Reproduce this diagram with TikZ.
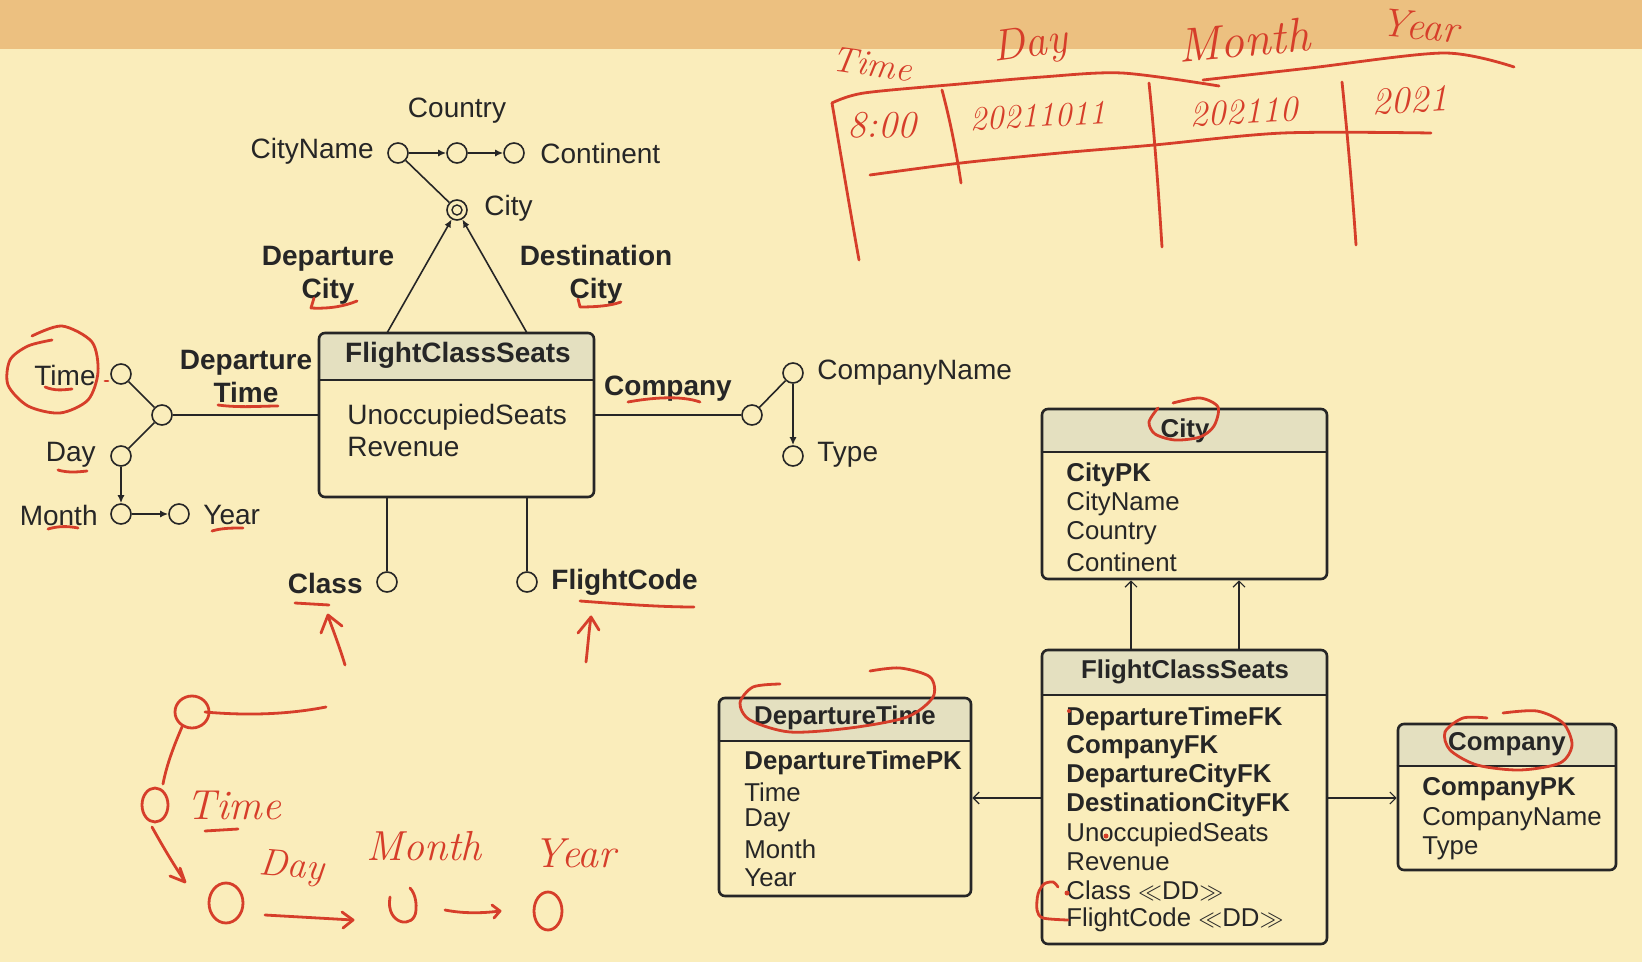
\documentclass[tikz,border=0pt]{standalone}
\usepackage{fontspec}
\newfontfamily\af{Liberation Sans}
\usetikzlibrary{arrows.meta,fit,calc}
\definecolor{bgc}{RGB}{250,237,187}
\definecolor{bandc}{RGB}{236,192,128}
\definecolor{hdrc}{RGB}{228,224,192}
\definecolor{ink}{RGB}{38,38,38}
\definecolor{redc}{RGB}{214,62,42}
\begin{document}
\begin{tikzpicture}[x=0.5pt,y=-0.5pt,
  attr/.style={circle, draw=ink, line width=0.8pt, minimum size=10pt, inner sep=0pt, fill=bgc},
  lbl/.style={font=\af\fontsize{14}{16.5}\selectfont, text=ink, inner sep=0pt},
  blbl/.style={font=\af\bfseries\fontsize{14}{16.5}\selectfont, text=ink, inner sep=0pt, align=center},
  conn/.style={draw=ink, line width=0.8pt},
  erarr/.style={conn, -{Latex[length=4pt,width=3.5pt]}},
  tbox/.style={draw=ink, line width=1.3pt, rounded corners=3pt, inner sep=0pt},
  row/.style={font=\af\fontsize{12.9}{14}\selectfont, anchor=west, inner sep=0pt, text=ink},
  brow/.style={font=\af\bfseries\fontsize{12.9}{14}\selectfont, anchor=west, inner sep=0pt, text=ink},
  ttl/.style={font=\af\bfseries\fontsize{12.9}{14}\selectfont, inner sep=0pt, text=ink},
  relarr/.style={draw=ink, line width=0.6pt, -{Straight Barb[length=3pt,width=6pt]}},
  pen/.style={draw=redc, line width=1.4pt, line cap=round, line join=round},
  hand/.style={text=redc, inner sep=0pt, font=\itshape\fontsize{#1}{#1}\selectfont},
  hand/.default=18
]
\useasboundingbox (0,0) rectangle (1642,962);
\fill[bgc] (0,0) rectangle (1642,962);
\fill[bandc] (0,0) rectangle (1642,49);

% ================= ER (left) =================
\node[lbl] (country) at (457,111) {Country};
\node[attr] (cn) at (398,153) {};
\node[attr] (co) at (457,153) {};
\node[attr] (ct) at (514,153) {};
\node[lbl, anchor=east] (cnl) at (374,151) {CityName};
\node[lbl, anchor=west] (ctl) at (540,153) {Continent};
\draw[erarr] (cn) -- (co);
\draw[erarr] (co) -- (ct);
\node[attr] (city) at (457,210) {};
\node[circle, draw=ink, line width=0.7pt, minimum size=5pt, inner sep=0pt] (cityin) at (city) {};
\node[lbl, anchor=west] (cityl) at (484,208) {City};
\draw[conn] (cn) -- (city);

% FlightClassSeats fact box
\begin{scope}
  \clip (319,333) rectangle (594,380);
  \fill[hdrc, rounded corners=3pt] (319,333) rectangle (594,497);
\end{scope}
\node[tbox, fit={(319,333) (594,497)}] (fcsE) {};
\draw[ink, line width=1.3pt] (fcsE.west |- 0,380) -- (fcsE.east |- 0,380);
\node[blbl] (fcsEt) at (458,355) {FlightClassSeats};
\node[lbl, anchor=west] (fcsE1) at (347,417) {UnoccupiedSeats};
\node[lbl, anchor=west] (fcsE2) at (347,447) {Revenue};

\coordinate (fa) at (387,333);
\coordinate (fb) at (527,333);
\draw[erarr] (fa) -- (city);
\draw[erarr] (fb) -- (city);
\node[blbl] (depc) at (328,275) {Departure\\City};
\node[blbl] (dstc) at (596,275) {Destination\\City};

% Departure time hierarchy
\node[attr] (dtc) at (162,415) {};
\node[attr] (tm) at (121,374) {};
\node[attr] (dy) at (121,456) {};
\node[attr] (mo) at (121,514) {};
\node[attr] (yr) at (179,514) {};
\draw[conn] (fcsE.west) -- (dtc);
\draw[conn] (dtc) -- (tm);
\draw[conn] (dtc) -- (dy);
\draw[erarr] (dy) -- (mo);
\draw[erarr] (mo) -- (yr);
\node[lbl, anchor=east] (tml) at (96,375) {Time};
\node[lbl, anchor=east] (dyl) at (96,455) {Day};
\node[lbl, anchor=east] (mol) at (98,515) {Month};
\node[lbl, anchor=west] (yrl) at (203,515) {Year};
\node[blbl] (dtl) at (246,377) {Departure\\Time};

% Company hierarchy
\node[attr] (cpc) at (752,415) {};
\node[attr] (cpn) at (793,373) {};
\node[attr] (cpt) at (793,456) {};
\draw[conn] (fcsE.east) -- (cpc);
\draw[conn] (cpc) -- (cpn);
\draw[erarr] (cpn) -- (cpt);
\node[lbl, anchor=west] (cpnl) at (817,373) {CompanyName};
\node[lbl, anchor=west] (cptl) at (817,455) {Type};
\node[blbl] (cpl) at (668,389) {Company};

% Class / FlightCode
\node[attr] (cls) at (387,582) {};
\node[attr] (fc) at (527,582) {};
\draw[conn] (fcsE.south -| cls) -- (cls);
\draw[conn] (fcsE.south -| fc) -- (fc);
\node[blbl, anchor=east] (clsl) at (363,583) {Class};
\node[blbl, anchor=west] (fcl) at (551,582) {FlightCode};

% ================= Relational (right) =================
% City table
\begin{scope}
  \clip (1042,409) rectangle (1327,452);
  \fill[hdrc, rounded corners=3pt] (1042,409) rectangle (1327,579);
\end{scope}
\node[tbox, fit={(1042,409) (1327,579)}] (cityB) {};
\draw[ink, line width=1.3pt] (cityB.west |- 0,452) -- (cityB.east |- 0,452);
\node[ttl] (cityT) at (1185,431) {City};
\node[brow] (c1) at (1066,475) {CityPK};
\node[row] (c2) at (1066,504) {CityName};
\node[row] (c3) at (1066,533) {Country};
\node[row] (c4) at (1066,562) {Continent};

% FlightClassSeats table
\begin{scope}
  \clip (1042,650) rectangle (1327,695);
  \fill[hdrc, rounded corners=3pt] (1042,650) rectangle (1327,944);
\end{scope}
\node[tbox, fit={(1042,650) (1327,944)}] (fcsB) {};
\draw[ink, line width=1.3pt] (fcsB.west |- 0,695) -- (fcsB.east |- 0,695);
\node[ttl] (fcsT) at (1185,672) {FlightClassSeats};
\node[brow] (f1) at (1066,719) {DepartureTimeFK};
\node[brow] (f2) at (1066,747) {CompanyFK};
\node[brow] (f3) at (1066,776) {DepartureCityFK};
\node[brow] (f4) at (1066,805) {DestinationCityFK};
\node[row] (f5) at (1066,835) {UnoccupiedSeats};
\node[row] (f6) at (1066,862) {Revenue};
\node[row] (f7) at (1066,891) {Class $\ll$DD$\gg$};
\node[row] (f8) at (1066,920) {FlightCode $\ll$DD$\gg$};

% DepartureTime table
\begin{scope}
  \clip (719,698) rectangle (971,741);
  \fill[hdrc, rounded corners=3pt] (719,698) rectangle (971,896);
\end{scope}
\node[tbox, fit={(719,698) (971,896)}] (dtB) {};
\draw[ink, line width=1.3pt] (dtB.west |- 0,741) -- (dtB.east |- 0,741);
\node[ttl] (dtT) at (845,718) {DepartureTime};
\node[brow] (d1) at (744,763) {DepartureTimePK};
\node[row] (d2) at (744,792) {Time};
\node[row] (d3) at (744,820) {Day};
\node[row] (d4) at (744,849) {Month};
\node[row] (d5) at (744,878) {Year};

% Company table
\begin{scope}
  \clip (1398,724) rectangle (1616,766);
  \fill[hdrc, rounded corners=3pt] (1398,724) rectangle (1616,870);
\end{scope}
\node[tbox, fit={(1398,724) (1616,870)}] (coB) {};
\draw[ink, line width=1.3pt] (coB.west |- 0,766) -- (coB.east |- 0,766);
\node[ttl] (coT) at (1507,744) {Company};
\node[brow] (o1) at (1422,789) {CompanyPK};
\node[row] (o2) at (1422,819) {CompanyName};
\node[row] (o3) at (1422,848) {Type};

% relational arrows
\coordinate (ra) at (1131,600);
\coordinate (rb) at (1239,600);
\coordinate (rc) at (1000,798);
\draw[relarr] (fcsB.north -| ra) -- (cityB.south -| ra);
\draw[relarr] (fcsB.north -| rb) -- (cityB.south -| rb);
\draw[relarr] (fcsB.west |- rc) -- (dtB.east |- rc);
\draw[relarr] (fcsB.east |- rc) -- (coB.west |- rc);

% ================= Red annotations =================
\draw[pen] plot[smooth] coordinates {(32,336) (62,326) (92,342) (98,372) (88,400) (60,413) (28,406) (8,385) (10,360) (28,346) (52,340)};
\draw[pen] (105,381) -- (108,381);
\draw[pen] (45,387) .. controls (55,391) and (62,390) .. (72,389);
\draw[pen] (58,470) .. controls (68,473) and (78,472) .. (87,471);
\draw[pen] (48,529) .. controls (58,526) and (68,526) .. (78,528);
\draw[pen] (212,531) .. controls (222,528) and (232,528) .. (243,528);
\draw[pen] (218,405) .. controls (240,408) and (260,406) .. (278,406);
\draw[pen] (314,298) -- (311,308) .. controls (330,309) and (345,306) .. (357,301);
\draw[pen] (578,299) -- (580,307) .. controls (595,307) and (610,306) .. (621,302);
\draw[pen] (628,402) .. controls (650,398) and (680,395) .. (700,402);
\draw[pen] (295,603) -- (329,605);
\draw[pen] (580,601) .. controls (620,604) and (660,607) .. (694,607);
\draw[pen] (345,665) .. controls (340,648) and (333,630) .. (328,616);
\draw[pen] (321,633) -- (328,615) -- (342,626);
\draw[pen] (586,662) .. controls (588,645) and (589,630) .. (591,617);
\draw[pen] (578,633) -- (591,617) -- (599,630);
\draw[pen] plot[smooth] coordinates {(1173,403) (1200,398) (1218,407) (1214,426) (1200,437) (1175,440) (1155,434) (1149,422) (1158,408)};
\draw[pen] plot[smooth] coordinates {(780,684) (753,687) (740,703) (750,720) (790,732) (850,728) (907,717) (933,697) (930,677) (900,668) (870,671)};
\draw[pen] plot[smooth] coordinates {(1487,718) (1463,718) (1445,732) (1450,750) (1477,765) (1520,770) (1560,763) (1572,745) (1563,723) (1537,711) (1503,713)};
\draw[pen] plot[smooth] coordinates {(1058,887) (1053,882) (1044,884) (1038,894) (1037,910) (1043,918) (1068,920)};
\fill[redc] (1067,893) circle (2.5);
\fill[redc] (1106,836) circle (2.5);
\fill[redc] (1069,711) circle (2);

% hand-drawn table, top right
\node[hand=18, rotate=-8] (hTime) at (872,64) {Time};
\node[hand=22, rotate=8] (hDay) at (1030,46) {Day};
\node[hand=24, rotate=5] (hMonth) at (1244,40) {Month};
\node[hand=20, rotate=-5] (hYear) at (1420,26) {Year};
\draw[pen] plot[smooth] coordinates {(832,103) (864,93) (960,84) (1042,77) (1122,73) (1219,86)};
\draw[pen] plot[smooth] coordinates {(1203,80) (1310,68) (1444,53) (1514,67)};
\node[hand=19] (h800) at (882,125) {8:00};
\node[hand=17, rotate=3] (hd1) at (1038,116) {20211011};
\node[hand=18, rotate=3] (hd2) at (1244,112) {202110};
\node[hand=19, rotate=3] (hd3) at (1410,100) {2021};
\draw[pen] plot[smooth] coordinates {(870,175) (961,163) (1060,153) (1154,145) (1283,133) (1431,133)};
\draw[pen] (832,103) .. controls (840,150) and (850,210) .. (859,260);
\draw[pen] (942,90) .. controls (950,120) and (956,150) .. (961,183);
\draw[pen] (1149,83) .. controls (1155,140) and (1159,200) .. (1162,247);
\draw[pen] (1342,82) .. controls (1348,140) and (1353,200) .. (1356,245);

% hand-drawn hierarchy, bottom left
\draw[pen] (192,712) ellipse (17 and 16);
\draw[pen] (205,712) .. controls (250,716) and (290,714) .. (326,707);
\draw[pen] (182,727) .. controls (172,750) and (166,768) .. (163,784);
\draw[pen] (155,805) ellipse (13 and 17);
\node[hand=21] (hbTime) at (234,805) {Time};
\draw[pen] (205,831) -- (238,829);
\draw[pen] (152,827) .. controls (162,845) and (172,862) .. (184,880);
\draw[pen] (170,876) -- (185,882) -- (180,868);
\draw[pen] (226,903) ellipse (17 and 20);
\node[hand=19, rotate=-5] (hbDay) at (292,868) {Day};
\draw[pen] (265,915) -- (353,920);
\draw[pen] (342,912) -- (353,920) -- (343,928);
\draw[pen] (390,897) .. controls (385,925) and (415,930) .. (416,910) .. controls (417,897) and (412,890) .. (410,888);
\node[hand=21] (hbMonth) at (424,846) {Month};
\draw[pen] (445,910) .. controls (465,914) and (485,913) .. (500,911);
\draw[pen] (492,905) -- (500,911) -- (494,918);
\draw[pen] (548,911) ellipse (14 and 19);
\node[hand=21] (hbYear) at (575,853) {Year};
\end{tikzpicture}
\end{document}
